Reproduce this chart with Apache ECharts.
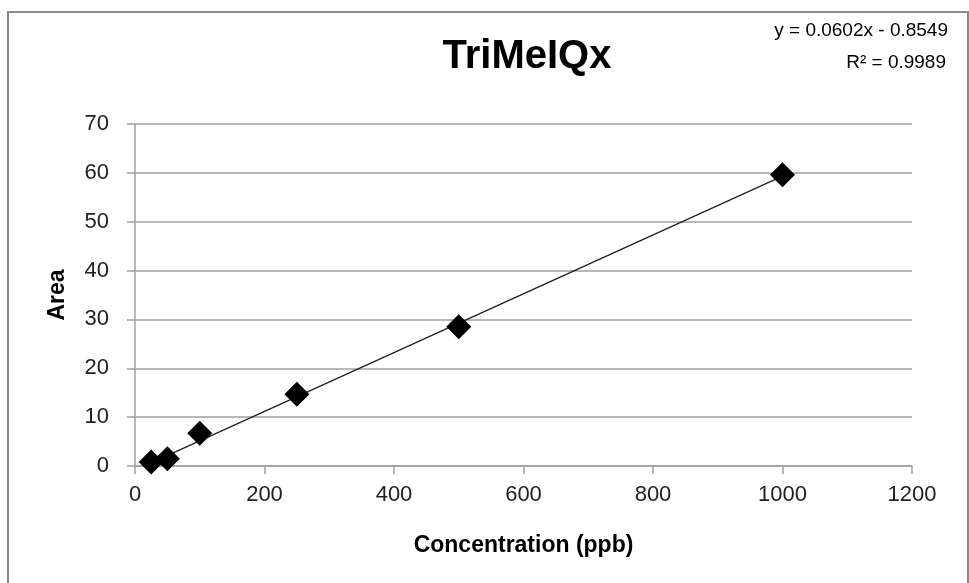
<!DOCTYPE html>
<html>
<head>
<meta charset="utf-8">
<script src="https://cdn.jsdelivr.net/npm/echarts@6/dist/echarts.min.js"></script>
<style>
html,body{margin:0;padding:0;background:#fff;}
#chart{width:969px;height:583px;}
</style>
</head>
<body>
<div id="chart"></div>
<script>
// Data
const concentration = [25, 50, 100, 250, 500, 1000];
const area = [0.8, 1.5, 6.7, 14.7, 28.5, 59.6];
const trendSlope = 0.0602;
const trendIntercept = -0.8549;
const trendX = [25, 1000];
const xTicks = [0, 200, 400, 600, 800, 1000, 1200];
const yTicks = [0, 10, 20, 30, 40, 50, 60, 70];
const titleText = 'TriMeIQx';
const eqLine1 = 'y = 0.0602x - 0.8549';
const eqLine2 = 'R² = 0.9989';

const FONT = '"Liberation Sans", Arial, sans-serif';
const chart = echarts.init(document.getElementById('chart'), null, {renderer: 'canvas'});

const trendData = trendX.map(x => [x, trendSlope * x + trendIntercept]);

chart.setOption({
  animation: false,
  backgroundColor: '#fff',
  grid: {left: 135, right: 57, top: 124, bottom: 117, containLabel: false},
  xAxis: {
    type: 'value',
    min: xTicks[0], max: xTicks[xTicks.length - 1], interval: 200,
    name: 'Concentration (ppb)',
    nameLocation: 'middle',
    nameGap: 68,
    nameTextStyle: {fontFamily: FONT, fontWeight: 'bold', fontSize: 23, color: '#000'},
    axisLine: {show: true, lineStyle: {color: '#a0a0a0', width: 1.5}},
    axisTick: {show: true, length: 8, lineStyle: {color: '#a0a0a0', width: 1.5}},
    axisLabel: {fontFamily: FONT, fontSize: 22, color: '#222', margin: 18, formatter: v => String(v)},
    splitLine: {show: false}
  },
  yAxis: {
    type: 'value',
    min: yTicks[0], max: yTicks[yTicks.length - 1], interval: 10,
    name: 'Area',
    nameLocation: 'middle',
    nameGap: 66,
    nameRotate: 90,
    nameTextStyle: {fontFamily: FONT, fontWeight: 'bold', fontSize: 23, color: '#000'},
    axisLine: {show: true, lineStyle: {color: '#a0a0a0', width: 1.5}},
    axisTick: {show: true, length: 8, lineStyle: {color: '#a0a0a0', width: 1.5}},
    axisLabel: {fontFamily: FONT, fontSize: 22, color: '#222', margin: 26, formatter: v => String(v)},
    splitLine: {show: true, lineStyle: {color: '#a0a0a0', width: 1.5}}
  },
  series: [
    {
      type: 'line',
      data: trendData,
      showSymbol: false,
      symbol: 'none',
      lineStyle: {color: '#202020', width: 1.3},
      z: 2
    },
    {
      type: 'scatter',
      data: concentration.map((x, i) => [x, area[i]]),
      symbol: 'diamond',
      symbolSize: [25, 25],
      itemStyle: {color: '#000', opacity: 1},
      z: 3
    }
  ],
  graphic: [
    {
      type: 'rect',
      shape: {x: 8, y: 12, width: 960, height: 585},
      style: {fill: 'none', stroke: '#8a8a8a', lineWidth: 2},
      silent: true
    },
    {
      type: 'text',
      x: 527, y: 57,
      style: {text: titleText, font: 'bold 40px ' + FONT, fill: '#000', textAlign: 'center', textVerticalAlign: 'middle'}
    },
    {
      type: 'text',
      x: 948, y: 31,
      style: {text: eqLine1, font: '19px ' + FONT, fill: '#000', textAlign: 'right', textVerticalAlign: 'middle'}
    },
    {
      type: 'text',
      x: 946, y: 63,
      style: {text: eqLine2, font: '19px ' + FONT, fill: '#000', textAlign: 'right', textVerticalAlign: 'middle'}
    }
  ]
});
</script>
</body>
</html>
